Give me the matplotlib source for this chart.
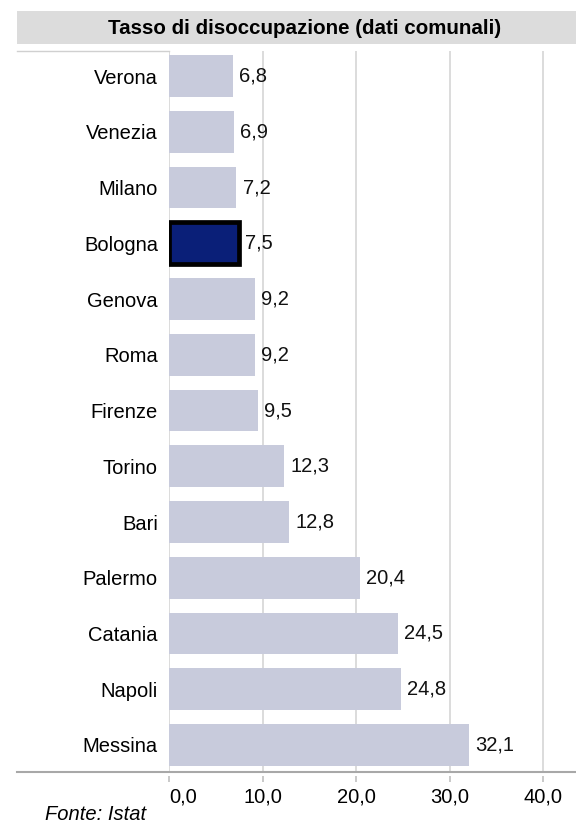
import matplotlib
matplotlib.use("Agg")
import matplotlib.pyplot as plt
from matplotlib.lines import Line2D
from matplotlib.patches import Rectangle

plt.rcParams['font.family'] = ['Liberation Sans', 'DejaVu Sans']

cities = ['Verona', 'Venezia', 'Milano', 'Bologna', 'Genova', 'Roma', 'Firenze',
          'Torino', 'Bari', 'Palermo', 'Catania', 'Napoli', 'Messina']
rates = [6.8, 6.9, 7.2, 7.5, 9.2, 9.2, 9.5, 12.3, 12.8, 20.4, 24.5, 24.8, 32.1]
highlight = 'Bologna'
x_ticks = [0, 10, 20, 30, 40]


def it_fmt(v):
    return f'{v:.1f}'.replace('.', ',')


W, H = 576, 824
fig = plt.figure(figsize=(W / 100, H / 100), dpi=100)

# axes placed in pixel terms
left, right, top, bottom = 169, 576, 51, 772
ax = fig.add_axes([left / W, 1 - bottom / H, (right - left) / W, (bottom - top) / H])

fs = 14.5
bar_color = '#c8cbdc'
colors = ['#0a1f78' if c == highlight else bar_color for c in cities]
edges = ['black' if c == highlight else 'none' for c in cities]
widths = [3.4 if c == highlight else 0 for c in cities]
ypos = list(range(len(cities)))
bars = ax.barh(ypos, rates, height=0.75, color=colors, edgecolor=edges,
               linewidth=widths, zorder=3)
ax.bar_label(bars, labels=[it_fmt(v) for v in rates],
             padding=4.5, fontsize=fs, color='#111111')

ax.grid(axis='x', color='#d6d6d6', linewidth=1.2, zorder=0)
for s in ['top', 'right', 'left']:
    ax.spines[s].set_visible(False)
# ticks hang a little below the baseline
ax.spines['bottom'].set_position(('outward', 3))
ax.spines['bottom'].set_visible(False)

ax.set_yticks(ypos)
ax.set_yticklabels(cities, fontsize=fs)
ax.set_ylim(len(cities) - 1 + 0.485, -0.45)
ax.set_xlim(0, 43.5)
ax.set_xticks(x_ticks, labels=[it_fmt(v) for v in x_ticks])
ax.tick_params(axis='y', length=0, pad=8)
ax.tick_params(axis='x', length=4.5, color='#c0c0c0', width=1.2, labelsize=fs, pad=4)
# first label sits to the right of its tick
ax.xaxis.get_major_ticks()[0].label1.set_horizontalalignment('left')

# title band
fig.patches.append(Rectangle((17 / W, 1 - 44 / H), (W - 17) / W, 33 / H,
                             transform=fig.transFigure, facecolor='#dcdcdc',
                             edgecolor='none'))
fig.text(305 / W, 1 - 28 / H, 'Tasso di disoccupazione (dati comunali)',
         ha='center', va='center', fontsize=14.8, fontweight='bold')

# thin line under the title on the label side and baseline across
fig.add_artist(Line2D([17 / W, left / W], [1 - top / H, 1 - top / H],
                      transform=fig.transFigure, color='#d0d0d0', linewidth=1))
fig.add_artist(Line2D([17 / W, 1], [1 - bottom / H, 1 - bottom / H],
                      transform=fig.transFigure, color='#a8a8a8', linewidth=1.5))

fig.text(45 / W, 1 - 815 / H, 'Fonte: Istat', ha='left', va='center',
         fontsize=fs, style='italic')

fig.savefig('out.png', dpi=100)
